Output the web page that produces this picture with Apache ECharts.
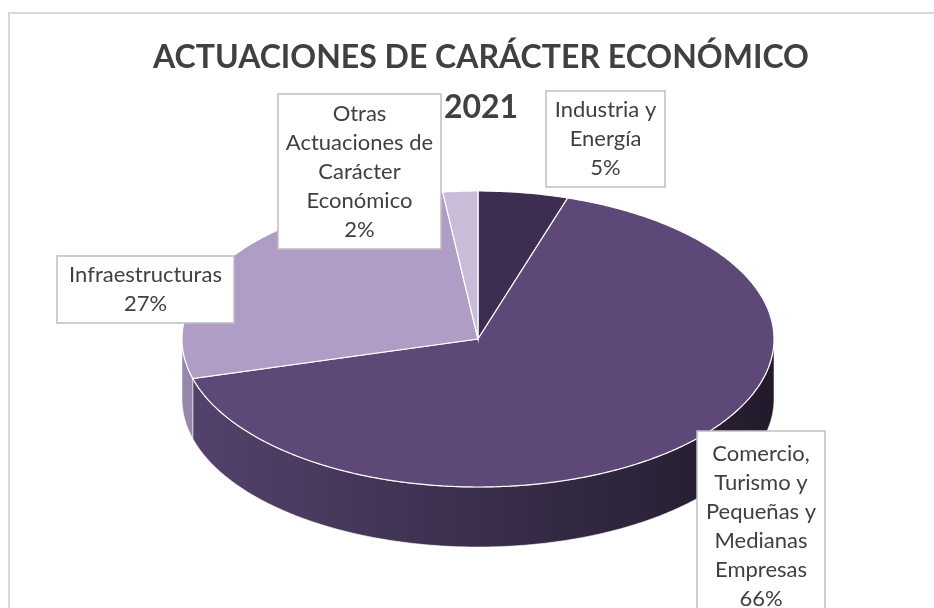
<!DOCTYPE html>
<html>
<head>
<meta charset="utf-8">
<script src="https://cdn.jsdelivr.net/npm/echarts@6/dist/echarts.min.js"></script>
<style>
  html, body { margin: 0; padding: 0; background: #fff; }
  #main { width: 934px; height: 608px; }
</style>
</head>
<body>
<div id="main"></div>
<script>
// datos del gráfico
const categories = [
  'Industria y Energía',
  'Comercio, Turismo y Pequeñas y Medianas Empresas',
  'Infraestructuras',
  'Otras Actuaciones de Carácter Económico'
];
const values = [4.9, 65.8, 27.4, 1.9];
// texto de las etiquetas tal como lo corta Excel
const labelNames = [
  'Industria y\nEnergía',
  'Comercio,\nTurismo y\nPequeñas y\nMedianas\nEmpresas',
  'Infraestructuras',
  'Otras\nActuaciones de\nCarácter\nEconómico'
];
const colors = ['#3d2e51', '#5d4877', '#b09dc6', '#c8bcd9'];
const sideColors = [['#33264a', '#1e1628'], ['#54436c', '#221a2c'], ['#9787aa', '#6e6080'], ['#ada0bf', '#8a7e9c']];
const titleText = 'ACTUACIONES DE CARÁCTER ECONÓMICO\n2021';

// cajas de etiquetas (colocadas a mano como en Excel)
const labelBoxes = [
  { x: 546, y: 91, w: 119, h: 96 },
  { x: 697, y: 431, w: 128, h: 190 },
  { x: 57, y: 256, w: 177, h: 67 },
  { x: 278, y: 94, w: 163, h: 155 }
];

const FONT = 'Lato, "Open Sans", sans-serif';
const cx = 478, cy = 339, rx = 296, ry = 148, depth = 60;
const total = values.reduce((a, b) => a + b, 0);

function pt(deg, dy) {
  const r = deg * Math.PI / 180;
  return [cx + rx * Math.sin(r), cy - ry * Math.cos(r) + (dy || 0)];
}

function arc(a0, a1, dy) {
  const pts = [];
  for (let a = a0; a < a1; a += 0.5) pts.push(pt(a, dy));
  pts.push(pt(a1, dy));
  return pts;
}

function renderItem(params, api) {
  const i = params.dataIndex;
  let start = 0;
  for (let k = 0; k < i; k++) start += values[k];
  const a0 = start / total * 360;
  const a1 = (start + values[i]) / total * 360;
  const children = [];

  // pared lateral (solo la parte frontal)
  const s0 = Math.max(a0, 90), s1 = Math.min(a1, 270);
  if (s1 > s0) {
    const top = arc(s0, s1, 0);
    const bottom = arc(s0, s1, depth).reverse();
    children.push({
      type: 'polygon',
      z2: 1,
      shape: { points: top.concat(bottom) },
      style: {
        fill: new echarts.graphic.LinearGradient(cx - rx, 0, cx + rx, 0, [
          { offset: 0, color: sideColors[i][0] },
          { offset: 1, color: sideColors[i][1] }
        ], true),
        stroke: 'rgba(255,255,255,0.55)',
        lineWidth: 1
      }
    });
  }

  // cara superior
  children.push({
    type: 'polygon',
    z2: 10,
    shape: { points: [[cx, cy]].concat(arc(a0, a1, 0)) },
    style: { fill: colors[i], stroke: '#ffffff', lineWidth: 1.2 }
  });

  // etiqueta
  const b = labelBoxes[i];
  const pct = Math.round(values[i] / total * 100) + '%';
  children.push({
    type: 'rect',
    z2: 20,
    shape: { x: b.x, y: b.y, width: b.w, height: b.h },
    style: { fill: '#ffffff', stroke: '#bfbfbf', lineWidth: 1.5 }
  });
  children.push({
    type: 'text',
    z2: 21,
    x: b.x + b.w / 2,
    y: b.y + b.h / 2,
    style: {
      text: labelNames[i] + '\n' + pct,
      align: 'center',
      verticalAlign: 'middle',
      lineHeight: 29,
      fontSize: 22,
      fontFamily: FONT,
      fill: '#404040'
    }
  });

  return { type: 'group', children: children };
}

const chart = echarts.init(document.getElementById('main'));
chart.setOption({
  animation: false,
  backgroundColor: '#ffffff',
  title: {
    text: titleText,
    left: 476,
    top: 28,
    textAlign: 'center',
    textStyle: {
      fontFamily: FONT,
      fontSize: 32,
      fontWeight: 'bold',
      lineHeight: 50,
      color: '#404040'
    }
  },
  graphic: [{
    type: 'rect',
    silent: true,
    shape: { x: 9, y: 13, width: 1000, height: 700 },
    style: { fill: 'none', stroke: '#d9d9d9', lineWidth: 2 }
  }],
  series: [{
    type: 'custom',
    coordinateSystem: 'none',
    name: categories.join(', '),
    silent: true,
    renderItem: renderItem,
    data: values
  }]
});

window.addEventListener('resize', () => chart.resize());
</script>
</body>
</html>
